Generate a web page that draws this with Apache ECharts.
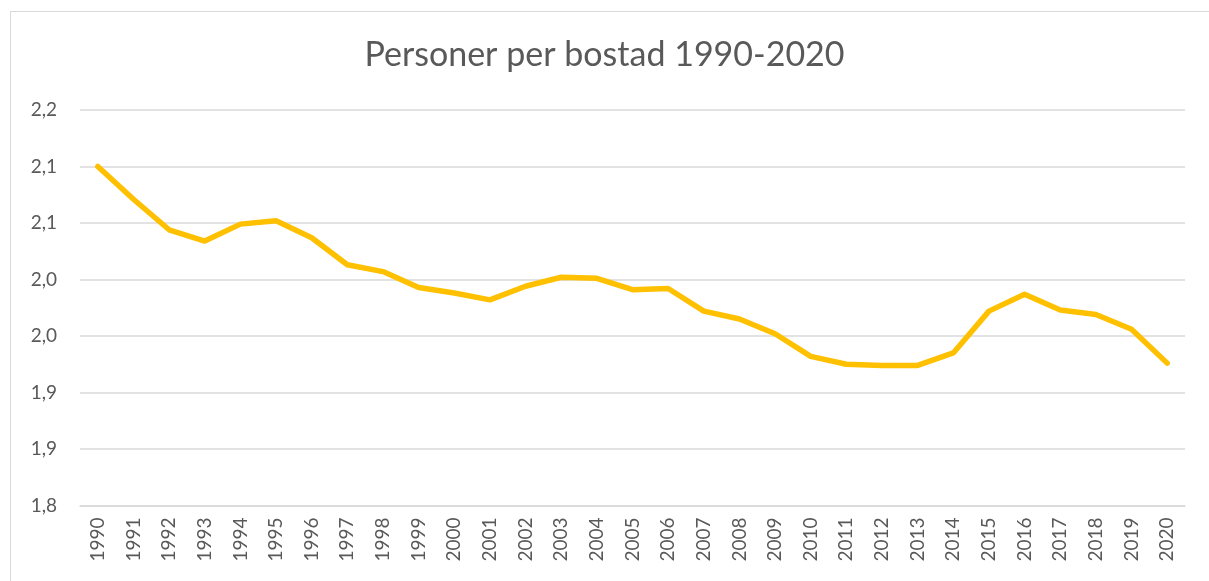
<!DOCTYPE html>
<html>
<head>
<meta charset="utf-8">
<script src="https://cdn.jsdelivr.net/npm/echarts@6/dist/echarts.min.js"></script>
<style>
html,body{margin:0;padding:0;background:#fff;}
#frame{position:absolute;left:10px;top:11px;width:1220px;height:600px;border:1px solid #d9d9d9;box-sizing:border-box;}
#chart{position:absolute;left:0;top:0;width:1209px;height:581px;}
</style>
</head>
<body>
<div id="frame"></div>
<div id="chart"></div>
<script>
const titleText = 'Personer per bostad 1990-2020';
const years = ['1990','1991','1992','1993','1994','1995','1996','1997','1998','1999','2000','2001','2002','2003','2004','2005','2006','2007','2008','2009','2010','2011','2012','2013','2014','2015','2016','2017','2018','2019','2020'];
const personsPerDwelling = [2.100,2.071,2.044,2.034,2.049,2.052,2.037,2.013,2.007,1.993,1.988,1.982,1.994,2.002,2.001,1.991,1.992,1.972,1.965,1.952,1.932,1.925,1.924,1.924,1.935,1.972,1.987,1.973,1.969,1.956,1.926];
const yMin = 1.8, yMax = 2.15, yStep = 0.05;

const chart = echarts.init(document.getElementById('chart'), null, {renderer:'canvas'});
const font = 'Lato, "Open Sans", sans-serif';
chart.setOption({
  animation:false,
  backgroundColor:'transparent',
  title:{
    text:titleText, left:'center', top:33,
    textStyle:{fontFamily:font, fontSize:34, fontWeight:'normal', color:'#595959'}
  },
  grid:{left:80, right:24, top:110, bottom:75.5, containLabel:false},
  xAxis:{
    type:'category', data:years, boundaryGap:true,
    axisLine:{show:true, lineStyle:{color:'#d9d9d9', width:1.5}},
    axisTick:{show:false},
    axisLabel:{rotate:90, margin:12, fontFamily:font, fontSize:19, color:'#595959', interval:0}
  },
  yAxis:{
    type:'value', min:yMin, max:yMax, interval:yStep,
    axisLine:{show:false}, axisTick:{show:false},
    splitLine:{lineStyle:{color:'#d9d9d9', width:1.5}},
    axisLabel:{margin:23, fontFamily:font, fontSize:19, color:'#595959',
      formatter:v => (Math.round(v*10+1e-6)/10).toFixed(1).replace('.', ',')}
  },
  series:[{
    type:'line', data:personsPerDwelling, symbol:'none',
    lineStyle:{color:'#FFC000', width:5.5, cap:'round', join:'round'}
  }]
});
</script>
</body>
</html>
